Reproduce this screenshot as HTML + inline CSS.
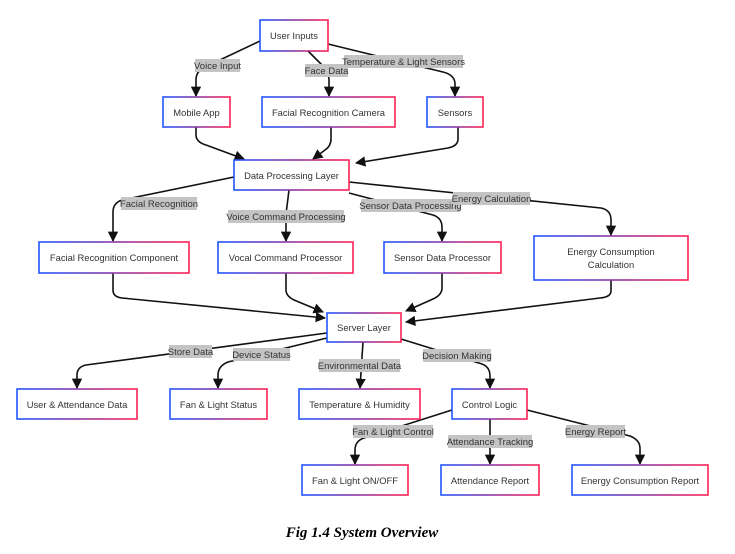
<!DOCTYPE html>
<html><head><meta charset="utf-8">
<style>
html,body{margin:0;padding:0;background:#fff;}
svg{display:block;}
text{font-family:"Liberation Sans",Arial,sans-serif;font-size:9.4px;fill:#333;}
.e{fill:none;stroke:#111;stroke-width:1.6;}
.lb{fill:#c4c4c4;}
.lt{font-size:9.5px;fill:#333;}
.cap{font-family:"Liberation Serif",serif;font-size:15px;font-weight:bold;font-style:italic;fill:#000;}
</style></head><body>
<svg width="735" height="554" viewBox="0 0 735 554" xmlns="http://www.w3.org/2000/svg">
<defs>
<linearGradient id="g" x1="0" y1="0" x2="1" y2="0">
<stop offset="0" stop-color="#2255ff"/><stop offset="0.5" stop-color="#8a3aa8"/><stop offset="1" stop-color="#ff2255"/>
</linearGradient>
<marker id="a" viewBox="0 0 10 10" refX="9" refY="5" markerWidth="6.5" markerHeight="6.5" orient="auto-start-reverse">
<path d="M0,0 L10,5 L0,10 z" fill="#111"/>
</marker>
</defs>

<g class="e" marker-end="url(#a)">
<path d="M260,41 L203,68 Q196,72 196,80 L196,96"/>
<path d="M308,51 L324,67 Q329,72 329,80 L329,96"/>
<path d="M328,44 L443,72 Q455,75 455,84 L455,96"/>
<path d="M196,127 L196,135 Q196,142 206,145 L244,159"/>
<path d="M331,127 L331,139 Q331,146 325,150 L313,159"/>
<path d="M458,127 L458,139 Q458,146 448,148 L356,163"/>
<path d="M234,177 L122,200 Q113,203 113,212 L113,241"/>
<path d="M289,190 L286,214 L286,241"/>
<path d="M349,193 L433,215 Q442,218 442,227 L442,241"/>
<path d="M349,182 L601,208 Q611,210 611,220 L611,235"/>
<path d="M113,273 L113,290 Q113,297 122,298 L325,318"/>
<path d="M286,273 L286,290 Q286,296 294,300 L323,312"/>
<path d="M442,273 L442,288 Q442,295 433,299 L406,311"/>
<path d="M611,280 L611,291 Q611,297 600,298 L406,322"/>
<path d="M327,333 L86,365 Q77,367 77,375 L77,388"/>
<path d="M327,338 L228,362 Q218,366 218,375 L218,388"/>
<path d="M363,342 L360,388"/>
<path d="M401,339 L482,364 Q490,367 490,376 L490,388"/>
<path d="M452,410 L364,438 Q355,441 355,450 L355,464"/>
<path d="M490,419 L490,464"/>
<path d="M527,410 L630,436 Q640,440 640,448 L640,464"/>
</g>

<g>
<rect class="lb" x="195" y="59" width="45" height="13"/><text class="lt" x="217.5" y="69" text-anchor="middle">Voice Input</text>
<rect class="lb" x="305" y="64" width="43" height="13"/><text class="lt" x="326.5" y="74" text-anchor="middle">Face Data</text>
<rect class="lb" x="344" y="55" width="119" height="13"/><text class="lt" x="403.5" y="65" text-anchor="middle">Temperature &amp; Light Sensors</text>
<rect class="lb" x="121" y="197" width="76" height="13"/><text class="lt" x="159" y="207" text-anchor="middle">Facial Recognition</text>
<rect class="lb" x="228" y="210" width="116" height="13"/><text class="lt" x="286" y="220" text-anchor="middle">Voice Command Processing</text>
<rect class="lb" x="361" y="199" width="99" height="13"/><text class="lt" x="410.5" y="209" text-anchor="middle">Sensor Data Processing</text>
<rect class="lb" x="453" y="192" width="77" height="13"/><text class="lt" x="491.5" y="202" text-anchor="middle">Energy Calculation</text>
<rect class="lb" x="169" y="345" width="43" height="13"/><text class="lt" x="190.5" y="355" text-anchor="middle">Store Data</text>
<rect class="lb" x="233" y="348" width="57" height="13"/><text class="lt" x="261.5" y="358" text-anchor="middle">Device Status</text>
<rect class="lb" x="319" y="359" width="81" height="13"/><text class="lt" x="359.5" y="369" text-anchor="middle">Environmental Data</text>
<rect class="lb" x="423" y="349" width="68" height="13"/><text class="lt" x="457" y="359" text-anchor="middle">Decision Making</text>
<rect class="lb" x="353" y="425" width="80" height="13"/><text class="lt" x="393" y="435" text-anchor="middle">Fan &amp; Light Control</text>
<rect class="lb" x="448" y="435" width="84" height="13"/><text class="lt" x="490" y="445" text-anchor="middle">Attendance Tracking</text>
<rect class="lb" x="566" y="425" width="59" height="13"/><text class="lt" x="595.5" y="435" text-anchor="middle">Energy Report</text>
</g>

<g fill="#fff" stroke="url(#g)" stroke-width="1.6">
<rect x="260" y="20" width="68" height="31"/>
<rect x="163" y="97" width="67" height="30"/>
<rect x="262" y="97" width="133" height="30"/>
<rect x="427" y="97" width="56" height="30"/>
<rect x="234" y="160" width="115" height="30"/>
<rect x="39" y="242" width="150" height="31"/>
<rect x="218" y="242" width="135" height="31"/>
<rect x="384" y="242" width="117" height="31"/>
<rect x="534" y="236" width="154" height="44"/>
<rect x="327" y="313" width="74" height="29"/>
<rect x="17" y="389" width="120" height="30"/>
<rect x="170" y="389" width="97" height="30"/>
<rect x="299" y="389" width="121" height="30"/>
<rect x="452" y="389" width="75" height="30"/>
<rect x="302" y="465" width="106" height="30"/>
<rect x="441" y="465" width="98" height="30"/>
<rect x="572" y="465" width="136" height="30"/>
</g>
<g text-anchor="middle">
<text x="294" y="39">User Inputs</text>
<text x="196.5" y="116">Mobile App</text>
<text x="328.5" y="116">Facial Recognition Camera</text>
<text x="455" y="116">Sensors</text>
<text x="291.5" y="179">Data Processing Layer</text>
<text x="114" y="261">Facial Recognition Component</text>
<text x="285.5" y="261">Vocal Command Processor</text>
<text x="442.5" y="261">Sensor Data Processor</text>
<text x="611" y="255">Energy Consumption</text>
<text x="611" y="268">Calculation</text>
<text x="364" y="331">Server Layer</text>
<text x="77" y="408">User &amp; Attendance Data</text>
<text x="218.5" y="408">Fan &amp; Light Status</text>
<text x="359.5" y="408">Temperature &amp; Humidity</text>
<text x="489.5" y="408">Control Logic</text>
<text x="355" y="484">Fan &amp; Light ON/OFF</text>
<text x="490" y="484">Attendance Report</text>
<text x="640" y="484">Energy Consumption Report</text>
</g>
<text class="cap" x="362" y="537" text-anchor="middle">Fig 1.4 System Overview</text>
</svg>
</body></html>
